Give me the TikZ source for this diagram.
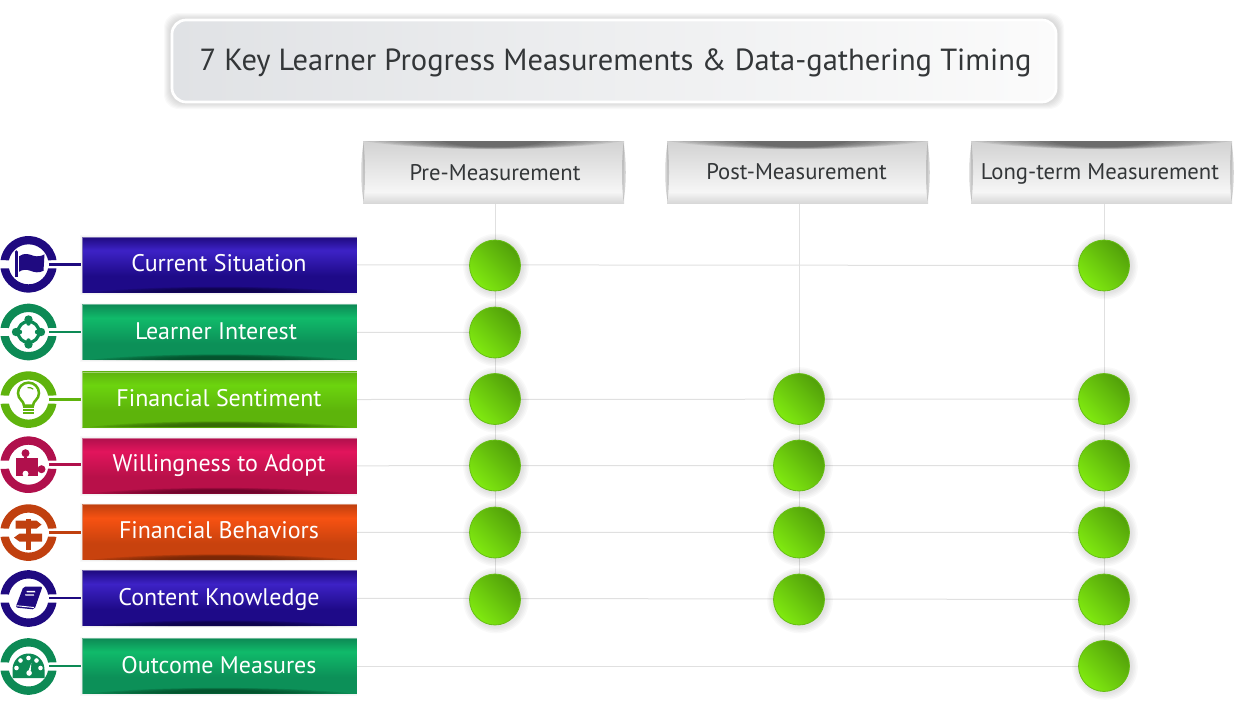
\documentclass[tikz,border=0pt]{standalone}
\usepackage{fontspec}
\setmainfont{PT Sans}
\usetikzlibrary{backgrounds}
% bar colours
\definecolor{inkA}{HTML}{1F0A80}\definecolor{inkB}{HTML}{0D8A55}\definecolor{inkC}{HTML}{5FB30D}\definecolor{inkD}{HTML}{B0104C}\definecolor{inkE}{HTML}{C0400F}
\definecolor{brtA}{HTML}{3D22C6}\definecolor{brtB}{HTML}{10BA6A}\definecolor{brtC}{HTML}{6CD40E}\definecolor{brtD}{HTML}{E2155C}\definecolor{brtE}{HTML}{F75212}
\definecolor{lowA}{HTML}{1E0A88}\definecolor{lowB}{HTML}{0C9058}\definecolor{lowC}{HTML}{5DB40B}\definecolor{lowD}{HTML}{B81049}\definecolor{lowE}{HTML}{C8420E}
\definecolor{botA}{HTML}{0C0340}\definecolor{botB}{HTML}{044424}\definecolor{botC}{HTML}{2E5A05}\definecolor{botD}{HTML}{5E0325}\definecolor{botE}{HTML}{662206}
\definecolor{titleink}{HTML}{333638}
\definecolor{grida}{HTML}{E0E0E0}
\definecolor{hTop}{HTML}{D2D2D2}\definecolor{hMid}{HTML}{F6F6F6}\definecolor{hBot}{HTML}{D8D8D8}
\pgfdeclareverticalshading{hdrshade}{100bp}{color(0bp)=(hBot);color(25bp)=(hBot);color(34bp)=(hMid);color(75bp)=(hTop);color(100bp)=(hTop)}
\newcommand{\mkbar}[1]{\pgfdeclareverticalshading{bar#1}{100bp}{color(0bp)=(low#1);color(25bp)=(low#1);color(40bp)=(low#1);color(63bp)=(brt#1);color(75bp)=(ink#1);color(100bp)=(ink#1)}}
\mkbar{A}\mkbar{B}\mkbar{C}\mkbar{D}\mkbar{E}
\definecolor{dotedge}{HTML}{66BE14}\definecolor{dotdark}{HTML}{52A00A}\definecolor{dotmid}{HTML}{5FB20C}\definecolor{dotlight}{HTML}{80EA10}
\tikzset{
  x=0.75pt,y=-0.75pt,
  labelbar/.style={minimum width=206pt,minimum height=41.5pt,inner sep=0pt},
  bartext/.style={text=white,font=\fontsize{18}{20}\selectfont,anchor=base,inner sep=0pt},
  headbox/.style={shading=hdrshade,minimum width=195.75pt,minimum height=46.5pt,inner sep=0pt},
  headtext/.style={text=titleink,font=\fontsize{17}{18}\selectfont,anchor=base,inner sep=0pt},
  dotnode/.style={circle,minimum size=38.2pt,inner sep=0pt,draw=dotedge,line width=.6pt,left color=dotdark,middle color=dotmid,right color=dotlight,shading angle=-45},
  gridline/.style={draw=grida,line width=.75pt},
  tick/.style={line width=1.9pt},
}
\newcommand{\softdot}[2]{\foreach \r in {1,...,5}{\fill[black,opacity=.022] (#1+1,#2+1) circle[radius=\r*1.1pt+19.1pt];}}
\newcommand{\ringicon}[4]{% colour, x, y, glyph
 \begin{scope}[shift={(#2,#3)},x=.75pt,y=.75pt]
  \fill[#1] (8.5:28.3) arc[start angle=8.5,end angle=171.5,radius=28.3] -- (168.5:20) arc[start angle=168.5,end angle=11.5,radius=20] -- cycle;
  \fill[#1] (-8.5:28.3) arc[start angle=-8.5,end angle=-171.5,radius=28.3] -- (-168.5:20) arc[start angle=-168.5,end angle=-11.5,radius=20] -- cycle;
  \begin{scope}[#1]#4\end{scope}
 \end{scope}}
\newcommand{\barrow}[8]{% name, colour key, y-top, y-bot, text, text x, tick y, text baseline y
 \foreach \r in {1,2}{\fill[black,opacity=.025] (82-\r,#3-\r) rectangle (357,#4+\r);}
 \node[labelbar,shading=bar#2] (#1) at (219.6,{(#3+#4)/2}) {};
 \draw[ink#2!60!white,line width=.5pt] (82.6,#3) -- (357,#3);
 \draw[ink#2!60!white,line width=.4pt] (82.6,#3) -- (82.6,#4);
 \foreach \k in {0,...,6}{\fill[bot#2,opacity=.2] (90+\k*13,#4) .. controls (150+\k*6,#4-7.5+\k*.5) and (290-\k*6,#4-7.5+\k*.5) .. (350-\k*13,#4) -- cycle;}
 \node[bartext] (#1t) at (#6,#8) {#5};
 \coordinate (#1c) at (80.5,#7);
 \coordinate (#1o) at (49,#7);
 \draw[tick,ink#2] (#1o) -- (#1c);
}
\newcommand{\header}[5]{% name, xc, text, text x shift, text baseline y
 \node[headbox] (#1) at (#2,172) {};
 \foreach \k in {0,...,7}{\fill[black,opacity=.08] (#2-130+\k*11,141) -- (#2+130-\k*11,141) .. controls (#2+60-\k*4,152-\k*.4) and (#2-60+\k*4,152-\k*.4) .. (#2-130+\k*11,141) -- cycle;}
 \fill[gray,opacity=.35] (#2-130,143) .. controls (#2-128,160) and (#2-128,185) .. (#2-130,201) .. controls (#2-133,185) and (#2-133,160) .. (#2-130,143) -- cycle;
 \fill[gray,opacity=.35] (#2+130,143) .. controls (#2+128,160) and (#2+128,185) .. (#2+130,201) .. controls (#2+133,185) and (#2+133,160) .. (#2+130,143) -- cycle;
 \node[headtext] (#1t) at (#2+#4,#5) {#3};
}
\begin{document}
\begin{tikzpicture}
\useasboundingbox (0,0) rectangle (1237,711);
% title
\foreach \r in {1,...,6}{\fill[black,opacity=.024,rounded corners=11pt] (170-\r,19-\r) rectangle (1058+\r,103+\r);}
\node[rounded corners=10.5pt,draw=white,line width=2pt,minimum width=663pt,minimum height=61.5pt,inner sep=0pt,shading angle=0,
  left color={rgb,255:red,224;green,226;blue,229},right color={rgb,255:red,251;green,251;blue,251}] (title) at (614,61) {};
\node[text=titleink,font=\fontsize{22.9}{26}\selectfont,inner sep=0pt] (titlet) at (615.5,62.5) {7 Key Learner Progress Measurements \& Data-gathering Timing};
% headers
\header{hpre}{493.5}{Pre-Measurement}{1.5}{180}
\header{hpost}{797.5}{Post-Measurement}{-1}{179.3}
\header{hlong}{1101.5}{Long-term Measurement}{-1.5}{179.3}
% bars
\barrow{rA}{A}{237}{292.5}{Current Situation}{219}{264.3}{271.3}
\barrow{rB}{B}{304.5}{360}{Learner Interest}{216}{332}{339.3}
\barrow{rC}{C}{372}{427}{Financial Sentiment}{219}{399.3}{406}
\barrow{rD}{D}{438}{493.5}{Willingness to Adopt}{219}{464.5}{471}
\barrow{rE}{E}{504.5}{560}{Financial Behaviors}{219}{532.3}{538}
\barrow{rF}{A}{570.5}{626}{Content Knowledge}{219}{597.8}{605}
\barrow{rG}{B}{638.5}{693.5}{Outcome Measures}{219}{666}{673}
% icons
\ringicon{inkA}{28.5}{264.3}{
  \fill (-13.2,12) rectangle (-11,-13);
  \fill (-12.1,12.5) circle[radius=1.6];
  \fill (-9.5,8) .. controls (-4,12) and (1,10) .. (5,8.5) .. controls (9,7.5) and (13,8) .. (16,10) -- (15,-6.5) .. controls (10,-9) and (6,-8) .. (2,-6.5) .. controls (-2,-5) and (-6,-5) .. (-9.5,-7.5) -- cycle;
}
\ringicon{inkB}{28.5}{332}{
  \draw[line width=2.4pt] (0,0) circle[radius=10.5];
  \foreach \a in {0,90,180,270}{\fill (\a:12.5) circle[radius=4.2]; \fill (\a:8.5) circle[radius=2.2];}
}
\ringicon{inkC}{28.5}{399.6}{
  \draw[line width=1.9pt,fill=white] (-4.5,-6) .. controls (-4.5,-1) and (-10.5,0) .. (-10.5,6.5) arc[start angle=180,end angle=0,radius=10.5] .. controls (10.5,0) and (4.5,-1) .. (4.5,-6) -- cycle;
  \fill (-5.5,-6.5) rectangle (5.5,-14);
  \draw[line width=.9pt] (-1,12) arc[start angle=100,end angle=50,radius=7];
  \draw[white,line width=.6pt] (-5.5,-9) -- (5.5,-9) (-5.5,-11.5) -- (5.5,-11.5);
}
\ringicon{inkD}{28.5}{464.7}{
  \fill (-13,7) rectangle (9.5,-11);
  \fill (-3,11.5) circle[radius=4];
  \fill (-4.5,8) rectangle (-1.5,6);
  \fill (13,-4.5) circle[radius=4];
  \fill[white] (-3,-9) circle[radius=3];
}
\ringicon{inkE}{28.5}{532.6}{
  \fill (-2.2,14) rectangle (2.2,-17);
  \fill (-13,12) -- (8,12) -- (13,8) -- (8,4) -- (-13,4) -- cycle;
  \fill (13.5,-1) -- (-9,-1) -- (-14.5,-5) -- (-9,-9) -- (13.5,-9) -- cycle;
}
\ringicon{inkA}{28.5}{598.5}{
  \fill[rounded corners=1.5pt] (-5,12) -- (14,12) -- (6,-11) -- (-13,-9) -- cycle;
  \fill[white] (-2,7.6) -- (6.5,7.6) -- (6.8,6.2) -- (-1.6,6.2) -- cycle;
  \fill[white] (-3.4,4.2) -- (5.4,4.2) -- (5.6,2.8) -- (-3,2.8) -- cycle;
  \draw[white,line width=.7pt] (-12,-7.2) -- (5.5,-9);
}
\ringicon{inkB}{28.5}{666.5}{
  \fill (-16,-11.5) -- (16,-11.5) -- (16,-3) arc[start angle=0,end angle=180,radius=16] -- cycle;
  \foreach \p in {(-8,6),(0,8.5),(8,6),(-12,-1.5),(12,-1.5)}{\fill[white] \p circle[radius=2.3];}
  \fill[white] (0.6,-6.5) circle[radius=2.8];
  \fill[white] (-.8,-6.5) -- (2,-6.5) -- (2.8,3.5) -- cycle;
}
% dots
\foreach \n/\x/\y in {pA/495/265.5,pB/495/332.5,pC/495/399,pD/495/465.5,pE/495/532.5,pF/495/599.5,
  qC/799/399,qD/799/465.5,qE/799/532.5,qF/799/599.5,
  lA/1104/265.5,lC/1104/399,lD/1104/465.5,lE/1104/532.5,lF/1104/599.5,lG/1104/666}{
  \softdot{\x}{\y}
  \node[dotnode] (\n) at (\x,\y) {};
}
\begin{pgfonlayer}{background}
 \foreach \a/\b in {rA/lA,rB/pB,rC/lC,rD/lD,rE/lE,rF/lF,rG/lG}{\draw[gridline] (\a.east) -- (\b.center);}
 \draw[gridline] (hpre.south -| pA) -- (pF.center);
 \draw[gridline] (hpost.south -| qC) -- (qF.center);
 \draw[gridline] (hlong.south -| lA) -- (lG.center);
\end{pgfonlayer}
\end{tikzpicture}
\end{document}
